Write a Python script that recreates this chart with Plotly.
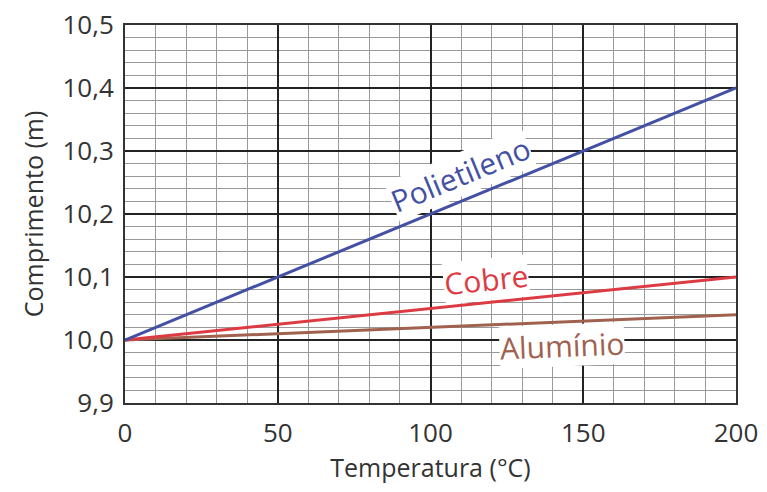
import plotly.graph_objects as go

temperatura = [0, 200]
polietileno = [10.0, 10.4]
cobre = [10.0, 10.1]
aluminio = [10.0, 10.04]

x_ticks = [0, 50, 100, 150, 200]
y_ticks = [9.9, 10.0, 10.1, 10.2, 10.3, 10.4, 10.5]

TXT = "#333333"
FONT = "Open Sans"

fig = go.Figure()
fig.add_trace(go.Scatter(x=temperatura, y=aluminio, mode="lines",
                         line=dict(color="#A0624F", width=3)))
fig.add_trace(go.Scatter(x=temperatura, y=cobre, mode="lines",
                         line=dict(color="#DD3B43", width=3)))
fig.add_trace(go.Scatter(x=temperatura, y=polietileno, mode="lines",
                         line=dict(color="#4450A4", width=3)))

# label text, x, y, angle, colour
labels = [
    ("Polietileno", 109.7, 10.262, -22.4, "#4450A4"),
    ("Cobre", 118.2, 10.096, -5.9, "#DD3B43"),
    ("Alumínio", 143, 9.991, -2.4, "#A0624F"),
]
for txt, x, y, ang, col in labels:
    fig.add_annotation(x=x, y=y, text=txt, showarrow=False, textangle=ang,
                       font=dict(family=FONT, size=30, color=col),
                       bgcolor="white", borderpad=0)

# page body has an 8px margin, so the figure is shrunk by that much
fig.update_layout(
    width=759, height=484,
    margin=dict(l=117, r=31, t=17, b=89),
    paper_bgcolor="white", plot_bgcolor="white",
    showlegend=False,
    separators=",.",
    font=dict(family=FONT, color=TXT),
)
fig.update_xaxes(
    range=[0, 200], tickvals=x_ticks, tickformat="d",
    tickfont=dict(size=26, color=TXT),
    title=dict(text="Temperatura (°C)", font=dict(size=25, color=TXT), standoff=6),
    showgrid=True, gridcolor="#222222", gridwidth=1.5,
    minor=dict(dtick=10, showgrid=True, gridcolor="#999999", gridwidth=1),
    showline=True, linecolor="#333333", linewidth=2, mirror=True,
    zeroline=False, ticks="", ticklabelstandoff=6,
    ticklabeloverflow="allow", automargin=False,
)
fig.update_yaxes(
    range=[9.9, 10.5], tickvals=y_ticks, tickformat=".1f",
    tickfont=dict(size=26, color=TXT),
    title=dict(text="Comprimento (m)", font=dict(size=25, color=TXT), standoff=12),
    showgrid=True, gridcolor="#222222", gridwidth=1.5,
    minor=dict(dtick=0.02, showgrid=True, gridcolor="#999999", gridwidth=1),
    showline=True, linecolor="#333333", linewidth=2, mirror=True,
    zeroline=False, ticks="", ticklabelstandoff=4,
    ticklabeloverflow="allow", automargin=False,
)

fig.write_html("out.html")
